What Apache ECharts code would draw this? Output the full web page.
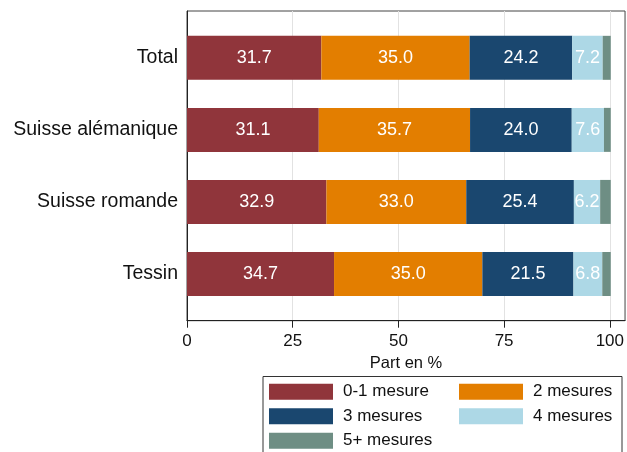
<!DOCTYPE html>
<html>
<head>
<meta charset="utf-8">
<script src="https://cdn.jsdelivr.net/npm/echarts@6/dist/echarts.min.js"></script>
<style>html,body{margin:0;padding:0;background:#fff}#c{width:627px;height:452px}</style>
</head>
<body>
<div id="c"></div>
<script>
const categories = ['Total', 'Suisse alémanique', 'Suisse romande', 'Tessin'];
const seriesNames = ['0-1 mesure', '2 mesures', '3 mesures', '4 mesures', '5+ mesures'];
const s01 = [31.7, 31.1, 32.9, 34.7];
const s2 = [35.0, 35.7, 33.0, 35.0];
const s3 = [24.2, 24.0, 25.4, 21.5];
const s4 = [7.2, 7.6, 6.2, 6.8];
const s5 = [1.9, 1.6, 2.5, 2.0];
const xTicks = [0, 25, 50, 75, 100];
const colors = ['#90353B', '#E37E00', '#1A476F', '#ADD8E6', '#6E8E84'];
const FONT = 'Liberation Sans, Arial, Helvetica, sans-serif';

const values = [s01, s2, s3, s4, s5];
const XMAX = 103.6;

const chart = echarts.init(document.getElementById('c'), null, {renderer: 'canvas'});
const series = values.map((v, i) => ({
  name: seriesNames[i],
  type: 'bar',
  stack: 'all',
  xAxisIndex: 1,
  yAxisIndex: 1,
  barWidth: 44,
  data: v,
  itemStyle: {color: colors[i]},
  label: {
    show: i < 4,
    position: 'inside',
    color: '#fff',
    fontSize: 18,
    fontFamily: FONT,
    formatter: p => p.value.toFixed(1)
  },
  emphasis: {disabled: true},
  animation: false
}));

chart.setOption({
  animation: false,
  textStyle: {fontFamily: FONT},
  grid: [
    {left: 187, top: 11, width: 439, bottom: 131.3, show: true, borderColor: '#444', borderWidth: 1, backgroundColor: '#fff', containLabel: false},
    {left: 187, top: 21.8, width: 439, bottom: 142, containLabel: false}
  ],
  xAxis: [
    {
      type: 'value', gridIndex: 0, min: 0, max: XMAX, interval: 25,
      axisLine: {show: true, lineStyle: {color: '#222', width: 1}},
      axisTick: {show: true, length: 7, lineStyle: {color: '#222'}, customValues: xTicks},
      axisLabel: {
        color: '#111', fontSize: 17, margin: 12, fontFamily: FONT,
        customValues: xTicks,
        formatter: v => (v % 25 === 0 && v <= 100) ? String(v) : ''
      },
      splitLine: {show: true, lineStyle: {color: '#e2e2e2', width: 1}},
      name: 'Part en %', nameLocation: 'middle', nameGap: 23,
      nameTextStyle: {color: '#111', fontSize: 16.5, fontFamily: FONT}
    },
    {
      type: 'value', gridIndex: 1, min: 0, max: XMAX, show: false,
      splitLine: {show: false}
    }
  ],
  yAxis: [
    {
      type: 'value', gridIndex: 0, min: 0, max: 1,
      axisLine: {show: true, onZero: false, lineStyle: {color: '#222', width: 1}},
      axisTick: {show: false}, axisLabel: {show: false}, splitLine: {show: false}
    },
    {
      type: 'category', gridIndex: 1, data: categories, inverse: true,
      axisLine: {show: false}, axisTick: {show: false},
      axisLabel: {color: '#111', fontSize: 19.5, margin: 9, fontFamily: FONT},
      splitLine: {show: false}
    }
  ],
  legend: [
    {
      left: 269, top: 383.3, orient: 'vertical', padding: 0,
      itemWidth: 64, itemHeight: 16, itemGap: 7.5, icon: 'rect',
      data: [seriesNames[0], seriesNames[2], seriesNames[4]],
      textStyle: {color: '#111', fontSize: 17, lineHeight: 16, fontFamily: FONT, padding: [0, 0, 0, 5]},
      selectedMode: false
    },
    {
      left: 459, top: 383.3, orient: 'vertical', padding: 0,
      itemWidth: 64, itemHeight: 16, itemGap: 7.5, icon: 'rect',
      data: [seriesNames[1], seriesNames[3]],
      textStyle: {color: '#111', fontSize: 17, lineHeight: 16, fontFamily: FONT, padding: [0, 0, 0, 5]},
      selectedMode: false
    }
  ],
  graphic: [
    {type: 'rect', left: 262.5, top: 376, z: -1,
     shape: {width: 359, height: 90}, style: {fill: '#fff', stroke: '#333', lineWidth: 1}}
  ],
  series: series
});
</script>
</body>
</html>
